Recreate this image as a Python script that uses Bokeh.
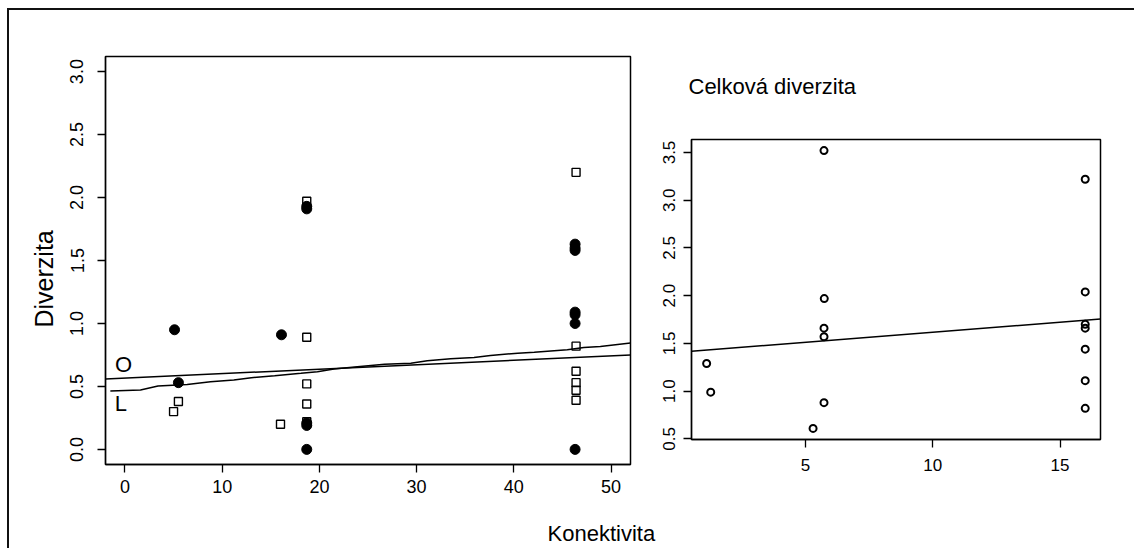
from bokeh.plotting import figure
from bokeh.models import FixedTicker, Label, Range1d, NumeralTickFormatter, Spacer, Title
from bokeh.layouts import row, column
from bokeh.embed import file_html
from bokeh.resources import INLINE

FONT = "Liberation Sans"

# ---- left panel data: Diverzita vs Konektivita ----
filled_x = [5.1, 5.5, 16.1, 18.7, 18.7, 18.7, 18.7, 18.7, 46.3, 46.3, 46.3, 46.3, 46.3, 46.3, 46.3]
filled_y = [0.95, 0.53, 0.91, 1.93, 1.91, 0.21, 0.19, 0.0, 1.63, 1.60, 1.58, 1.09, 1.07, 1.00, 0.0]

open_x = [5.0, 5.5, 16.0, 18.7, 18.7, 18.7, 18.7, 18.7, 46.4, 46.4, 46.4, 46.4, 46.4, 46.4]
open_y = [0.30, 0.38, 0.20, 1.97, 0.89, 0.52, 0.36, 0.22, 2.20, 0.82, 0.62, 0.53, 0.47, 0.39]

o_line_x = [-2.0, 52.0]
o_line_y = [0.559, 0.750]

l_line_x = [-1.5, 1.6, 3.4, 6.4, 8.8, 11.2, 13.0, 15.4, 18.1, 19.8, 21.5, 23.9, 26.7,
            29.4, 31.1, 33.5, 35.9, 37.6, 40.4, 42.1, 45.5, 47.2, 48.9, 52.0]
l_line_y = [0.463, 0.471, 0.503, 0.516, 0.538, 0.551, 0.569, 0.585, 0.604, 0.617, 0.639,
            0.657, 0.676, 0.684, 0.703, 0.719, 0.729, 0.745, 0.764, 0.772, 0.791, 0.809,
            0.817, 0.845]

left_xticks = [0, 10, 20, 30, 40, 50]
left_yticks = [0.0, 0.5, 1.0, 1.5, 2.0, 2.5, 3.0]

# ---- right panel data: Celková diverzita ----
right_x = [5.73, 15.99, 5.74, 15.99, 5.73, 5.73, 15.99, 15.99, 15.99, 1.12, 1.28, 5.73, 5.30, 15.99, 15.99]
right_y = [3.52, 3.22, 1.97, 2.04, 1.66, 1.57, 1.70, 1.66, 1.44, 1.29, 0.99, 0.88, 0.61, 1.11, 0.82]

r_line_x = [0.525, 16.59]
r_line_y = [1.419, 1.755]

right_xticks = [5, 10, 15]
right_yticks = [0.5, 1.0, 1.5, 2.0, 2.5, 3.0, 3.5]


def style_axes(p, tick_px, standoff_x, standoff_y):
    for ax in (p.xaxis[0], p.yaxis[0]):
        ax.major_label_text_font = FONT
        ax.major_label_text_font_size = tick_px
        ax.major_label_text_color = "black"
        ax.minor_tick_line_color = None
        ax.major_tick_in = 0
        ax.major_tick_out = 8
        ax.major_tick_line_color = "black"
        ax.major_tick_line_width = 1.3
        ax.axis_line_color = "black"
        ax.axis_line_width = 1.3
    p.xaxis[0].major_label_standoff = standoff_x
    p.yaxis[0].major_label_standoff = standoff_y
    p.yaxis[0].major_label_orientation = "vertical"
    p.yaxis[0].formatter = NumeralTickFormatter(format="0.0")
    p.xgrid.grid_line_color = None
    p.ygrid.grid_line_color = None
    p.outline_line_color = "black"
    p.outline_line_width = 1.5
    p.background_fill_color = "white"
    p.border_fill_color = "white"


# ---- left figure ----
p1 = figure(width=651, output_backend="svg", toolbar_location=None,
            x_range=Range1d(-2.0, 52.0), y_range=Range1d(-0.12, 3.12),
            min_border_left=96, min_border_right=30, min_border_top=46, min_border_bottom=10,
            frame_width=525, frame_height=408)
p1.xaxis.ticker = FixedTicker(ticks=left_xticks)
p1.yaxis.ticker = FixedTicker(ticks=left_yticks)
style_axes(p1, "18px", 7, 14)

p1.line(o_line_x, o_line_y, line_color="black", line_width=1.5)
p1.line(l_line_x, l_line_y, line_color="black", line_width=1.5)
p1.scatter(open_x, open_y, marker="square", size=8, fill_color=None,
           line_color="black", line_width=1.4)
p1.scatter(filled_x, filled_y, marker="circle", size=10, fill_color="black",
           line_color="black")

p1.add_layout(Label(x=-0.13, y=0.676, text="O", text_font=FONT, text_font_size="22px",
                    text_align="center", text_baseline="middle", text_color="black"))
p1.add_layout(Label(x=-0.41, y=0.364, text="L", text_font=FONT, text_font_size="22px",
                    text_align="center", text_baseline="middle", text_color="black"))
p1.add_layout(Title(text="Diverzita", align="left", offset=137, standoff=19,
                    text_font=FONT, text_font_size="25px", text_font_style="normal",
                    text_color="black"), "left")
p1.add_layout(Title(text="Konektivita", align="left", offset=442, standoff=47,
                    text_font=FONT, text_font_size="22px", text_font_style="normal",
                    text_color="black"), "below")

# ---- right figure ----
p2 = figure(width=474, output_backend="svg", toolbar_location=None,
            x_range=Range1d(0.525, 16.59), y_range=Range1d(0.494, 3.636),
            min_border_left=31, min_border_right=34, min_border_top=115, min_border_bottom=60,
            frame_width=409, frame_height=300)
p2.title = Title(text="Celková diverzita", align="left", offset=-3, standoff=81,
                 text_font=FONT, text_font_size="22px", text_font_style="normal",
                 text_color="black")
p2.xaxis.ticker = FixedTicker(ticks=right_xticks)
p2.yaxis.ticker = FixedTicker(ticks=right_yticks)
style_axes(p2, "17px", 11, 8)

p2.line(r_line_x, r_line_y, line_color="black", line_width=1.5)
p2.scatter(right_x, right_y, marker="circle", size=7, fill_color=None,
           line_color="black", line_width=2)

right_col = column(Spacer(width=474, height=14), p2)
layout = row(p1, right_col,
             styles={"border-left": "2px solid #111", "border-top": "2px solid #111",
                     "margin-left": "7px", "margin-top": "8px",
                     "overflow": "hidden", "max-height": "540px"})

open("out.html", "w").write(file_html(layout, INLINE))
